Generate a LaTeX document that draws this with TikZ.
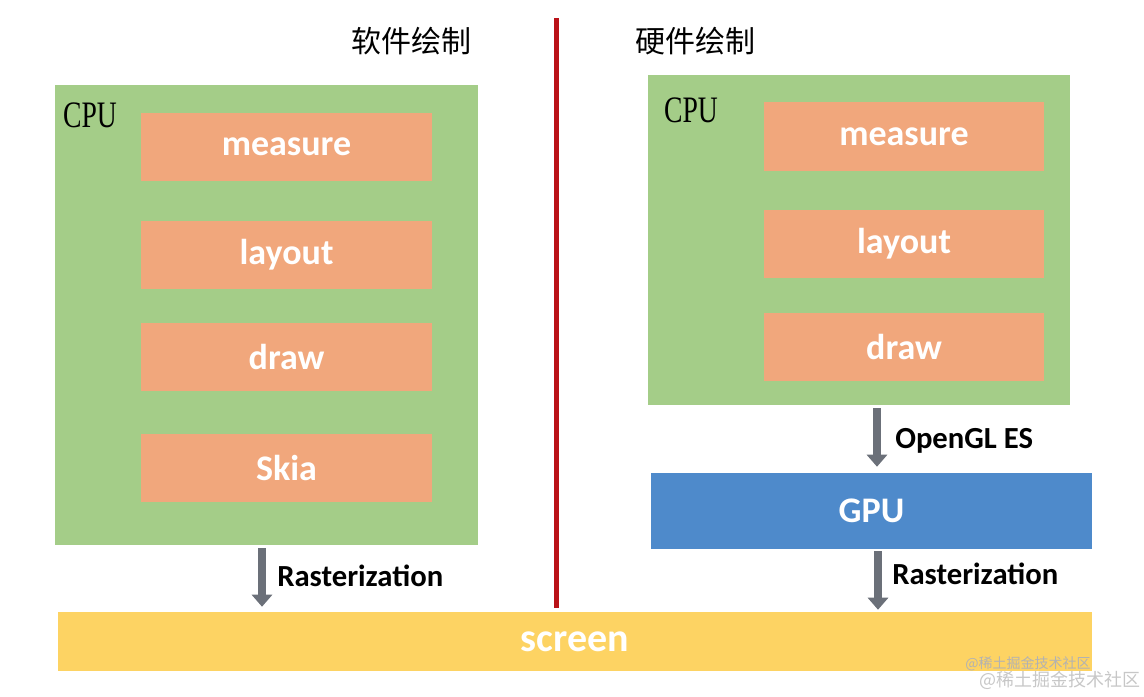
\documentclass[tikz,border=0pt]{standalone}
\usepackage{fontspec}
\usetikzlibrary{arrows.meta,fit}
\newfontfamily\lblfont{Carlito}
\newfontfamily\cjkfont{Noto Sans CJK SC}
\newfontfamily\cpufont{Liberation Serif}
\definecolor{cpugreen}{HTML}{A4CD88}
\definecolor{steporange}{HTML}{F1A77C}
\definecolor{gpublue}{HTML}{4E8ACB}
\definecolor{screenyellow}{HTML}{FDD363}
\definecolor{arrowgray}{HTML}{6B7079}
\definecolor{splitred}{HTML}{BA1218}

\tikzset{
  cpubox/.style={fill=cpugreen, draw=none, inner sep=0pt},
  stepbox/.style={fill=steporange, draw=none, inner sep=0pt},
  gpubox/.style={fill=gpublue, draw=none, inner sep=0pt},
  screenbox/.style={fill=screenyellow, draw=none, inner sep=0pt},
  boxtext/.style={text=white, inner sep=0pt,
    font=\lblfont\bfseries\fontsize{27}{27}\selectfont},
  screentext/.style={text=white, inner sep=0pt,
    font=\lblfont\bfseries\fontsize{30}{30}\selectfont},
  cpulabel/.style={anchor=west, inner sep=0pt, xscale=0.74,
    font=\cpufont\fontsize{28}{28}\selectfont},
  sidelabel/.style={anchor=west, inner sep=0pt,
    font=\lblfont\bfseries\fontsize{23}{23}\selectfont},
  title/.style={inner sep=0pt, font=\cjkfont\fontsize{22.5}{22.5}\selectfont},
  flow/.style={draw=arrowgray, line width=6pt,
    -{Triangle[width=15pt,length=9pt]}},
}

\begin{document}
\begin{tikzpicture}[x=0.75pt,y=-0.75pt]
  \useasboundingbox (0,0) rectangle (1144,696);

  % titles and split line
  \node[title] (swtitle) at (411,41) {软件绘制};
  \node[title] (hwtitle) at (695,41) {硬件绘制};
  \draw[splitred, line width=3.75pt] (556,18) -- (556,608);

  % software side
  \node[cpubox, fit={(55,85) (478,545)}] (cpuL) {};
  \node[cpulabel] (cpuLtext) at (63,115) {CPU};
  \node[stepbox, fit={(141,113) (432,181)}, label={[boxtext]center:measure}] (measureL) {};
  \node[stepbox, fit={(141,221) (432,289)}, label={[boxtext]center:layout}] (layoutL) {};
  \node[stepbox, fit={(141,323) (432,391)}, label={[boxtext]center:draw}] (drawL) {};
  \node[stepbox, fit={(141,434) (432,502)}, label={[boxtext]center:Skia}] (skiaL) {};

  % hardware side
  \node[cpubox, fit={(648,75) (1070,405)}] (cpuR) {};
  \node[cpulabel] (cpuRtext) at (664,110) {CPU};
  \node[stepbox, fit={(764,102) (1044,171)}, label={[boxtext]center:measure}] (measureR) {};
  \node[stepbox, fit={(764,210) (1044,278)}, label={[boxtext]center:layout}] (layoutR) {};
  \node[stepbox, fit={(764,313) (1044,381)}, label={[boxtext]center:draw}] (drawR) {};
  \node[gpubox, fit={(651,473) (1092,549)}, label={[boxtext]center:GPU}] (gpu) {};

  % screen
  \node[screenbox, fit={(58,612) (1092,671)}, label={[screentext]center:screen}] (screen) {};

  % arrows
  \coordinate (rasL) at (262,548);
  \coordinate (glR) at (877,408);
  \coordinate (rasR) at (878,551);
  \draw[flow] (rasL) -- ([yshift=3.75pt]rasL |- screen.north);
  \draw[flow] (glR) -- ([yshift=4.5pt]glR |- gpu.north);
  \draw[flow] (rasR) -- ([yshift=1.5pt]rasR |- screen.north);
  \node[sidelabel] (rasLtext) at (277,576) {Rasterization};
  \node[sidelabel] (gltext) at (895,441) {OpenGL ES};
  \node[sidelabel] (rasRtext) at (892,574) {Rasterization};

  % watermark
  \node[inner sep=0pt, text=black!30, font=\cjkfont\fontsize{10.5}{10.5}\selectfont]
    (mark1) at (1028,664) {@稀土掘金技术社区};
  \node[inner sep=0pt, text=black!22, font=\cjkfont\fontsize{13.5}{13.5}\selectfont]
    (mark2) at (1060,680) {@稀土掘金技术社区};
\end{tikzpicture}
\end{document}
